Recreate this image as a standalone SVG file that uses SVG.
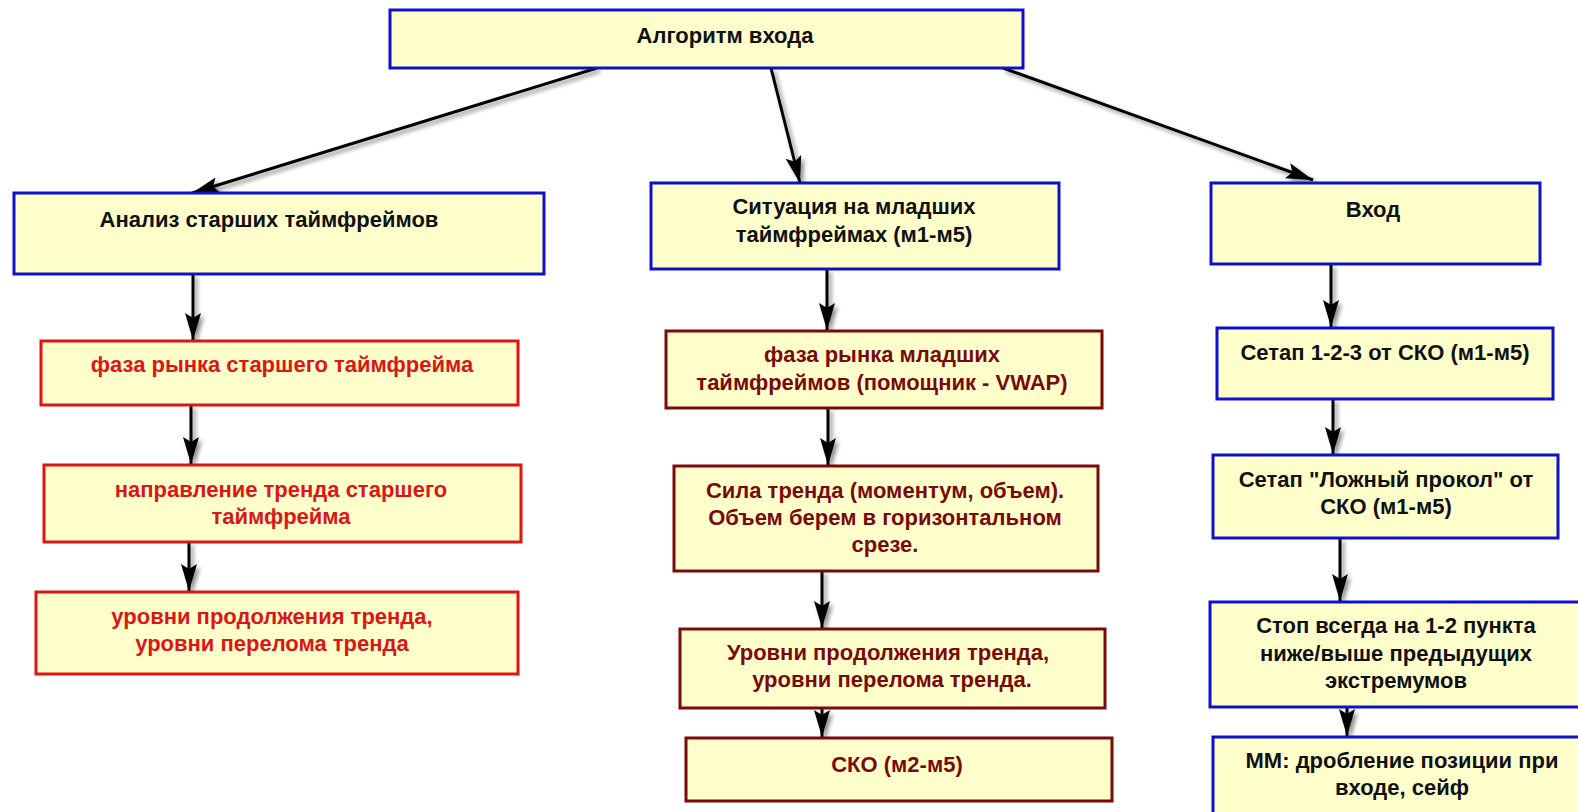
<svg xmlns="http://www.w3.org/2000/svg" width="1578" height="812" viewBox="0 0 1578 812">
<defs>
<style>
.box{fill:#FFFFCC;stroke-width:3}
.b{stroke:#1010CC}
.r{stroke:#DD1515}
.m{stroke:#7A0A0A}
text{font-family:"Liberation Sans",Arial,sans-serif;font-size:22px;font-weight:bold;text-anchor:middle}
.tk{fill:#111111}
.tr{fill:#DD1515}
.tm{fill:#7A0A0A}
.c line{stroke:#000;stroke-width:3;fill:none;marker-end:url(#ah)}
</style>
<marker id="ah" markerUnits="userSpaceOnUse" markerWidth="30" markerHeight="18" refX="27" refY="8" orient="auto">
<path d="M0,0 L27,8 L0,16 L5,8 z" fill="#000"/>
</marker>
<filter id="sh" x="-20%" y="-20%" width="140%" height="140%">
<feGaussianBlur in="SourceAlpha" stdDeviation="2"/>
<feOffset dx="3" dy="3" result="o"/>
<feComponentTransfer><feFuncA type="linear" slope="0.45"/></feComponentTransfer>
<feMerge><feMergeNode/><feMergeNode in="SourceGraphic"/></feMerge>
</filter>
</defs>
<rect width="1578" height="812" fill="#FFFFFF"/>

<g class="c" id="connectors" filter="url(#sh)">
<line x1="597" y1="68" x2="192" y2="193"/>
<line x1="771" y1="68" x2="800" y2="183"/>
<line x1="1003" y1="68" x2="1313" y2="180"/>
<line x1="193" y1="274" x2="193" y2="340"/>
<line x1="191" y1="405" x2="191" y2="464"/>
<line x1="189" y1="542" x2="189" y2="591"/>
<line x1="827" y1="269" x2="827" y2="330"/>
<line x1="828" y1="408" x2="828" y2="465"/>
<line x1="822" y1="571" x2="822" y2="628"/>
<line x1="822" y1="708" x2="822" y2="737"/>
<line x1="1331" y1="264" x2="1331" y2="327"/>
<line x1="1333" y1="399" x2="1333" y2="454"/>
<line x1="1340" y1="538" x2="1340" y2="601"/>
<line x1="1347" y1="707" x2="1347" y2="736"/>
</g>

<g id="n-top"><rect class="box b" x="390" y="10" width="633" height="58"/><text class="tk" x="725" y="43">Алгоритм входа</text></g>

<g id="n-analiz"><rect class="box b" x="14" y="193" width="530" height="81"/><text class="tk" x="269" y="227">Анализ старших таймфреймов</text></g>
<g id="n-faza1"><rect class="box r" x="41" y="341" width="477" height="64"/><text class="tr" x="282" y="372">фаза рынка старшего таймфрейма</text></g>
<g id="n-napr"><rect class="box r" x="44" y="465" width="477" height="77"/><text class="tr" x="281" y="497">направление тренда старшего</text><text class="tr" x="281" y="524">таймфрейма</text></g>
<g id="n-urovni1"><rect class="box r" x="36" y="592" width="482" height="82"/><text class="tr" x="272" y="624">уровни продолжения тренда,</text><text class="tr" x="272" y="651">уровни перелома тренда</text></g>

<g id="n-situ"><rect class="box b" x="651" y="183" width="408" height="86"/><text class="tk" x="854" y="214">Ситуация на младших</text><text class="tk" x="854" y="242">таймфреймах (м1-м5)</text></g>
<g id="n-faza2"><rect class="box m" x="666" y="331" width="436" height="77"/><text class="tm" x="882" y="362">фаза рынка младших</text><text class="tm" x="882" y="390">таймфреймов (помощник - VWAP)</text></g>
<g id="n-sila"><rect class="box m" x="674" y="466" width="424" height="105"/><text class="tm" x="885" y="498">Сила тренда (моментум, объем).</text><text class="tm" x="885" y="525">Объем берем в горизонтальном</text><text class="tm" x="885" y="552">срезе.</text></g>
<g id="n-urovni2"><rect class="box m" x="680" y="629" width="425" height="79"/><text class="tm" x="888" y="660">Уровни продолжения тренда,</text><text class="tm" x="892" y="687">уровни перелома тренда.</text></g>
<g id="n-sko"><rect class="box m" x="686" y="738" width="426" height="63"/><text class="tm" x="897" y="772">СКО (м2-м5)</text></g>

<g id="n-vhod"><rect class="box b" x="1211" y="183" width="329" height="81"/><text class="tk" x="1373" y="217">Вход</text></g>
<g id="n-setap1"><rect class="box b" x="1217" y="328" width="336" height="71"/><text class="tk" x="1385" y="360">Сетап 1-2-3 от СКО (м1-м5)</text></g>
<g id="n-setap2"><rect class="box b" x="1213" y="455" width="345" height="83"/><text class="tk" x="1386" y="487">Сетап "Ложный прокол" от</text><text class="tk" x="1386" y="514">СКО (м1-м5)</text></g>
<g id="n-stop"><rect class="box b" x="1210" y="602" width="380" height="105"/><text class="tk" x="1396" y="633">Стоп всегда на 1-2 пункта</text><text class="tk" x="1396" y="661">ниже/выше предыдущих</text><text class="tk" x="1396" y="688">экстремумов</text></g>
<g id="n-mm"><rect class="box b" x="1213" y="737" width="380" height="95"/><text class="tk" x="1402" y="768">ММ: дробление позиции при</text><text class="tk" x="1402" y="795">входе, сейф</text></g>
</svg>
